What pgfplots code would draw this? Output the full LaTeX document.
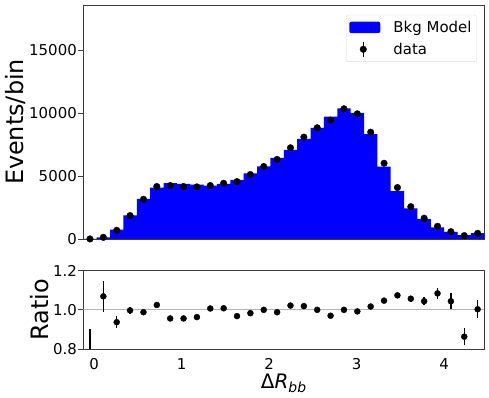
\documentclass[border=0pt]{standalone}
\usepackage{fontspec}
\setmainfont{DejaVu Sans}
\usepackage{pgfplots}
\pgfplotsset{compat=1.18}
\definecolor{framec}{RGB}{60,60,60}
\begin{document}
\begin{tikzpicture}
\useasboundingbox (0bp,0bp) rectangle (489bp,398bp);
\begin{axis}[
  at={(83.3bp,159bp)}, anchor=south west,
  scale only axis, width=401bp, height=234bp,
  xmin=-0.125, xmax=4.459, ymin=0, ymax=18600,
  axis line style={framec, line width=0.8bp},
  tick align=outside, major tick length=5bp,
  tick style={framec, line width=0.8bp},
  xtick=\empty,
  ytick={0,5000,10000,15000}, ytick pos=left,
  scaled y ticks=false,
  yticklabel style={/pgf/number format/1000 sep={}, xshift=2bp},
  /pgf/number format/assume math mode=true,
  tick label style={font=\fontsize{15}{18}\selectfont},
  ylabel={Events/bin},
  ylabel style={font=\fontsize{24}{28}\selectfont, at={(axis description cs:-0.170,0.5)}, anchor=center},
  legend cell align=left,
  legend style={at={(axis description cs:0.981,0.958)}, anchor=north east,
    draw=black!15, rounded corners=2bp, font=\fontsize{15}{18}\selectfont,
    inner xsep=3bp, inner ysep=4bp, row sep=5bp, column sep=11bp},
]
\addplot[const plot mark left, fill=blue, draw=none,
  legend image code/.code={\fill[blue] (0bp,-5.7bp) rectangle (31bp,5.7bp);}]
coordinates {
(-0.125,10) (0.0278,120) (0.1806,740) (0.3334,1870) (0.4862,3190)
(0.6390,4080) (0.7918,4450) (0.9446,4380) (1.0974,4320) (1.2502,4240)
(1.4030,4390) (1.5558,4700) (1.7086,5220) (1.8614,5780) (2.0142,6440)
(2.1670,7090) (2.3198,7955) (2.4726,8840) (2.6254,9730) (2.7782,10380)
(2.9310,10030) (3.0838,8340) (3.2366,5755) (3.3894,3805) (3.5422,2435)
(3.6950,1575) (3.8478,932) (4.0006,560) (4.1534,315) (4.3062,460)
(4.4590,460)
} \closedcycle;
\addlegendentry{Bkg Model}
\addplot[only marks, mark=*, mark size=3.3bp, black,
  error bars/.cd, y dir=both, y explicit, error mark=none,
  error bar style={line width=1.5bp, black},
  /pgfplots/legend image code/.code={
     \fill[white, opacity=0] (0bp,-5.7bp) rectangle (31bp,5.7bp);
     \draw[black, line width=1.5bp, opacity=1] (14bp,-7.5bp) -- (14bp,7.5bp);
     \fill[black, opacity=1] (14bp,0bp) circle (3.3bp);}]
coordinates {
(-0.0486,5) +- (0,2)
(0.1042,130) +- (0,11)
(0.2570,690) +- (0,26)
(0.4098,1860) +- (0,43)
(0.5626,3160) +- (0,56)
(0.7154,4170) +- (0,65)
(0.8682,4250) +- (0,65)
(1.0210,4170) +- (0,65)
(1.1738,4140) +- (0,64)
(1.3266,4250) +- (0,65)
(1.4794,4430) +- (0,67)
(1.6322,4560) +- (0,68)
(1.7850,5120) +- (0,72)
(1.9378,5760) +- (0,76)
(2.0906,6320) +- (0,80)
(2.2434,7250) +- (0,85)
(2.3962,8100) +- (0,90)
(2.5490,8840) +- (0,94)
(2.7018,9450) +- (0,97)
(2.8546,10350) +- (0,102)
(3.0074,9950) +- (0,100)
(3.1602,8490) +- (0,92)
(3.3130,6020) +- (0,78)
(3.4658,4090) +- (0,64)
(3.6186,2570) +- (0,51)
(3.7714,1650) +- (0,41)
(3.9242,1010) +- (0,32)
(4.0770,580) +- (0,24)
(4.2298,270) +- (0,16)
(4.3826,450) +- (0,21)
};
\addlegendentry{data}
\end{axis}

\begin{axis}[
  at={(83.3bp,49bp)}, anchor=south west,
  scale only axis, width=401bp, height=78.3bp,
  xmin=-0.125, xmax=4.459, ymin=0.8, ymax=1.2,
  axis line style={framec, line width=0.8bp},
  tick align=outside, major tick length=5bp,
  tick style={framec, line width=0.8bp},
  xtick={0,1,2,3,4}, xtick pos=lower,
  xtick style={draw=none},
  xticklabel style={yshift=-1bp},
  ytick={0.8,1.0,1.2}, ytick pos=left,
  yticklabel style={/pgf/number format/.cd, fixed, fixed zerofill, precision=1, /tikz/xshift=2bp},
  /pgf/number format/assume math mode=true,
  tick label style={font=\fontsize{15}{18}\selectfont},
  ylabel={Ratio},
  ylabel style={font=\fontsize{24}{28}\selectfont, at={(axis description cs:-0.108,0.5)}, anchor=center},
  xlabel={\fontsize{20}{22}\selectfont Δ\textit{R}\textsubscript{\textit{bb}}},
  xlabel style={at={(axis description cs:0.5,-0.51)}, anchor=base, inner sep=0pt},
]
\addplot[black!30, line width=0.8bp] coordinates {(-0.125,1) (4.459,1)};
\addplot[only marks, mark=none,
  error bars/.cd, y dir=both, y explicit, error mark=none,
  error bar style={line width=1.5bp, black}]
coordinates {(-0.0486,0.5) +- (0,0.4)};
\addplot[only marks, mark=*, mark size=3bp, black,
  error bars/.cd, y dir=both, y explicit, error mark=none,
  error bar style={line width=1.5bp, black}]
coordinates {
(0.1042,1.069) +- (0,0.080)
(0.2570,0.937) +- (0,0.030)
(0.4098,0.997) +- (0,0.016)
(0.5626,0.988) +- (0,0.012)
(0.7154,1.025) +- (0,0.010)
(0.8682,0.956) +- (0,0.010)
(1.0210,0.956) +- (0,0.010)
(1.1738,0.963) +- (0,0.010)
(1.3266,1.007) +- (0,0.010)
(1.4794,1.008) +- (0,0.010)
(1.6322,0.968) +- (0,0.009)
(1.7850,0.983) +- (0,0.009)
(1.9378,1.000) +- (0,0.008)
(2.0906,0.988) +- (0,0.008)
(2.2434,1.022) +- (0,0.008)
(2.3962,1.019) +- (0,0.007)
(2.5490,1.000) +- (0,0.007)
(2.7018,0.970) +- (0,0.007)
(2.8546,1.000) +- (0,0.007)
(3.0074,0.992) +- (0,0.007)
(3.1602,1.017) +- (0,0.008)
(3.3130,1.047) +- (0,0.010)
(3.4658,1.074) +- (0,0.012)
(3.6186,1.057) +- (0,0.016)
(3.7714,1.044) +- (0,0.020)
(3.9242,1.084) +- (0,0.030)
(4.0770,1.044) +- (0,0.040)
(4.2298,0.863) +- (0,0.045)
(4.3826,1.003) +- (0,0.045)
};
\end{axis}
\end{tikzpicture}
\end{document}
